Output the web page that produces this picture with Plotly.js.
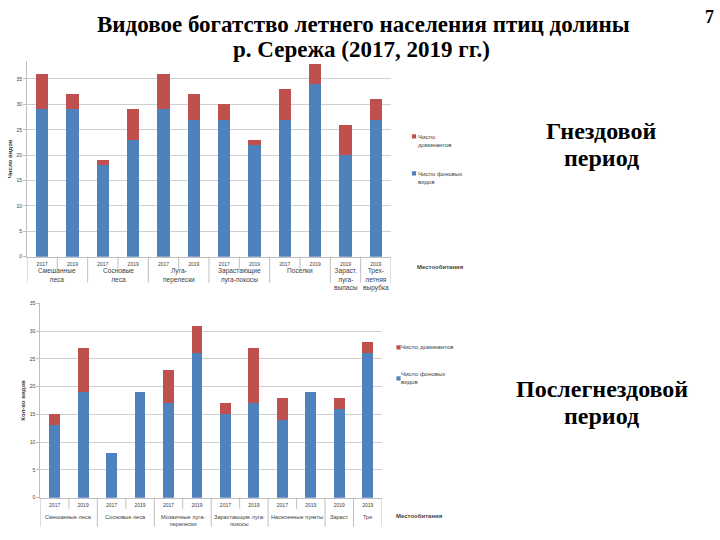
<!DOCTYPE html>
<html>
<head>
<meta charset="utf-8">
<script src="https://cdn.plot.ly/plotly-3.0.1.min.js"></script>
<style>html,body{margin:0;padding:0;background:#fff;}#chart{width:720px;height:540px;}</style>
</head>
<body>
<div id="chart"></div>
<script>
// ---------- DATA ----------
const titleLines = ["Видовое богатство летнего населения птиц долины", "р. Сережа (2017, 2019 гг.)"];
const pageNumber = "7";
const periodTop = ["Гнездовой", "период"];
const periodBot = ["Послегнездовой", "период"];
const xTitle = "Местообитания";

// Nesting period (top chart)
const groupsTop = ["Смешанные<br>леса", "Сосновые<br>леса", "Луга-<br>перелески", "Зарастающие<br>луга-покосы", "Поселки", "Зараст.<br>луга-<br>выпасы", "Трех-<br>летняя<br>вырубка"];
const groupSizesTop = [2, 2, 2, 2, 2, 1, 1];
const yearsTop = ["2017", "2019", "2017", "2019", "2017", "2019", "2017", "2019", "2017", "2019", "2019", "2019"];
const backgroundTop = [29, 29, 18, 23, 29, 27, 27, 22, 27, 34, 20, 27];
const dominantsTop = [7, 3, 1, 6, 7, 5, 3, 1, 6, 4, 6, 4];
const namesTop = ["Число фоновых<br>видов", "Число<br>доминантов"];
const yTitleTop = "Число видов";

// Post-nesting period (bottom chart)
const groupsBot = ["Смешанные леса", "Сосновые леса", "Мозаичные луга-<br>перелески", "Зарастающие луга-<br>покосы", "Населенные пункты", "Зараст", "Тре"];
const groupSizesBot = [2, 2, 2, 2, 2, 1, 1];
const yearsBot = ["2017", "2019", "2017", "2019", "2017", "2019", "2017", "2019", "2017", "2019", "2019", "2019"];
const backgroundBot = [13, 19, 8, 19, 17, 26, 15, 17, 14, 19, 16, 26];
const dominantsBot = [2, 8, 0, 0, 6, 5, 2, 10, 4, 0, 2, 2];
const namesBot = ["Число фоновых<br>видов", "Число доминантов"];
const yTitleBot = "Кол-во видов";

// ---------- STYLE ----------
const BLUE = "#4F81BD", RED = "#C0504D";
const W = 720, H = 540;
const py = p => 1 - p / H;   // pixel -> paper y
const px = p => p / W;       // pixel -> paper x
const textCol = "#404040";
const sans = "Liberation Sans, Arial, sans-serif";
const serif = "Liberation Serif, Times New Roman, serif";

const idxTop = yearsTop.map((_, i) => i);
const idxBot = yearsBot.map((_, i) => i);

const traces = [
  {type: "bar", x: idxTop, y: backgroundTop, xaxis: "x", yaxis: "y", name: namesTop[0],
   marker: {color: BLUE}, width: 0.4, legend: "legend", legendgroup: "tb", legendrank: 2, hoverinfo: "y"},
  {type: "bar", x: idxTop, y: dominantsTop, xaxis: "x", yaxis: "y", name: namesTop[1],
   marker: {color: RED}, width: 0.4, legend: "legend", legendgroup: "td", legendrank: 1, hoverinfo: "y"},
  {type: "bar", x: idxBot, y: backgroundBot, xaxis: "x2", yaxis: "y2", name: namesBot[0],
   marker: {color: BLUE}, width: 0.38, legend: "legend2", legendgroup: "bb", legendrank: 2, hoverinfo: "y"},
  {type: "bar", x: idxBot, y: dominantsBot, xaxis: "x2", yaxis: "y2", name: namesBot[1],
   marker: {color: RED}, width: 0.38, legend: "legend2", legendgroup: "bd", legendrank: 1, hoverinfo: "y"}
];

// geometry of the two chart pictures (pixels)
const G = {
  top: {x0: 27, x1: 391, y0: 256.7, y1: 61.2, ymax: 38.5, shortLen: 12, longLen: 26,
        grpY: 264.5, grpAnchor: "top", grpFont: 6.6, xa: "x"},
  bot: {x0: 40.4, x1: 382, y0: 497.7, y1: 303.3, ymax: 35, shortLen: 11, longLen: 29,
        grpY: 511.5, grpAnchor: "top", grpFont: 5.6, xa: "x2"}
};

const shapes = [];
const annotations = [];

function decorate(g, groups, sizes) {
  // divider lines between bars and between groups
  const n = sizes.reduce((a, b) => a + b, 0);
  const bounds = new Set([0]);
  let c = 0;
  sizes.forEach(s => { c += s; bounds.add(c); });
  for (let k = 0; k <= n; k++) {
    const long = bounds.has(k);
    shapes.push({type: "line", xref: g.xa, yref: "paper", x0: k - 0.5, x1: k - 0.5,
      y0: py(g.y0), y1: py(g.y0 + (long ? g.longLen : g.shortLen)),
      line: {color: "#bfbfbf", width: 1}});
  }
  // group labels
  let start = 0;
  groups.forEach((label, gi) => {
    const mid = start + (sizes[gi] - 1) / 2;
    annotations.push({xref: g.xa, yref: "paper", x: mid, y: py(g.grpY), yanchor: g.grpAnchor,
      xanchor: "center", showarrow: false, text: label, align: "center",
      font: {family: sans, size: g.grpFont, color: textCol}});
    start += sizes[gi];
  });
}
decorate(G.top, groupsTop, groupSizesTop);
decorate(G.bot, groupsBot, groupSizesBot);

function txt(x, y, text, font, size, color) {
  annotations.push({xref: "paper", yref: "paper", x: px(x), y: py(y), xanchor: "center",
    yanchor: "middle", showarrow: false, text: text,
    font: {family: font, size: size, color: color}});
}
// slide title
txt(363, 25, "<b>" + titleLines[0] + "</b>", serif, 23, "#000");
txt(361.5, 49.5, "<b>" + titleLines[1] + "</b>", serif, 23, "#000");
// x-axis titles
txt(440, 266.5, "<b>" + xTitle + "</b>", sans, 6, textCol);
txt(419, 516, "<b>" + xTitle + "</b>", sans, 6, textCol);
// period labels
txt(601, 131, "<b>" + periodTop[0] + "</b>", serif, 24, "#000");
txt(601, 158, "<b>" + periodTop[1] + "</b>", serif, 24, "#000");
txt(601.5, 389, "<b>" + periodBot[0] + "</b>", serif, 24, "#000");
txt(601.5, 416, "<b>" + periodBot[1] + "</b>", serif, 24, "#000");
// page number
txt(709, 17, "<b>" + pageNumber + "</b>", serif, 18, "#000");

function xaxisDef(g, years) {
  return {domain: [px(g.x0), px(g.x1)], range: [-0.5, years.length - 0.5],
    tickmode: "array", tickvals: years.map((_, i) => i), ticktext: years,
    tickfont: {family: sans, size: 5, color: textCol}, ticks: "", ticklabelstandoff: 2,
    showgrid: false, zeroline: false, showline: true, linecolor: "#bfbfbf", linewidth: 1,
    automargin: false, fixedrange: true};
}
function yaxisDef(g, title) {
  return {domain: [py(g.y0), py(g.y1)], range: [0, g.ymax], dtick: 5, tick0: 0,
    tickfont: {family: sans, size: 5, color: textCol}, ticks: "outside", ticklen: 3,
    tickcolor: "#bfbfbf", showgrid: true, gridcolor: "#cfcfcf", gridwidth: 1,
    zeroline: false, showline: true, linecolor: "#bfbfbf", linewidth: 1,
    title: {text: "<b>" + title + "</b>", font: {family: sans, size: 6, color: textCol}, standoff: 3},
    automargin: false, fixedrange: true};
}

const layout = {
  width: W, height: H,
  margin: {l: 0, r: 0, t: 0, b: 0},
  paper_bgcolor: "#fff", plot_bgcolor: "#fff",
  barmode: "stack",
  xaxis: Object.assign(xaxisDef(G.top, yearsTop), {anchor: "y"}),
  yaxis: Object.assign(yaxisDef(G.top, yTitleTop), {anchor: "x"}),
  xaxis2: Object.assign(xaxisDef(G.bot, yearsBot), {anchor: "y2"}),
  yaxis2: Object.assign(yaxisDef(G.bot, yTitleBot), {anchor: "x2"}),
  legend: {x: px(378), y: py(126), xanchor: "left", yanchor: "top", traceorder: "grouped",
    tracegroupgap: 18, valign: "top", bgcolor: "rgba(0,0,0,0)",
    font: {family: sans, size: 6, color: textCol}},
  legend2: {x: px(361), y: py(332), xanchor: "left", yanchor: "top", traceorder: "grouped",
    tracegroupgap: 12, valign: "top", bgcolor: "rgba(0,0,0,0)",
    font: {family: sans, size: 6, color: textCol}},
  shapes: shapes,
  annotations: annotations,
  showlegend: true
};

Plotly.newPlot("chart", traces, layout, {displayModeBar: false, staticPlot: true}).then(gd => {
  // shrink legend swatches to the small squares of the original charts, next to the text
  const shift = {legend: 36, legend2: 37.5};
  Object.keys(shift).forEach(cls => {
    gd.querySelectorAll("g." + cls + " g.traces").forEach(item => {
      const multiLine = item.querySelectorAll(".legendtext tspan.line").length > 1;
      const dy = multiLine ? 0 : 5;
      item.querySelectorAll(".legendpoints path").forEach(p => {
        p.setAttribute("transform", "translate(" + shift[cls] + "," + dy + ") scale(0.35)");
      });
    });
  });
});
</script>
</body>
</html>
